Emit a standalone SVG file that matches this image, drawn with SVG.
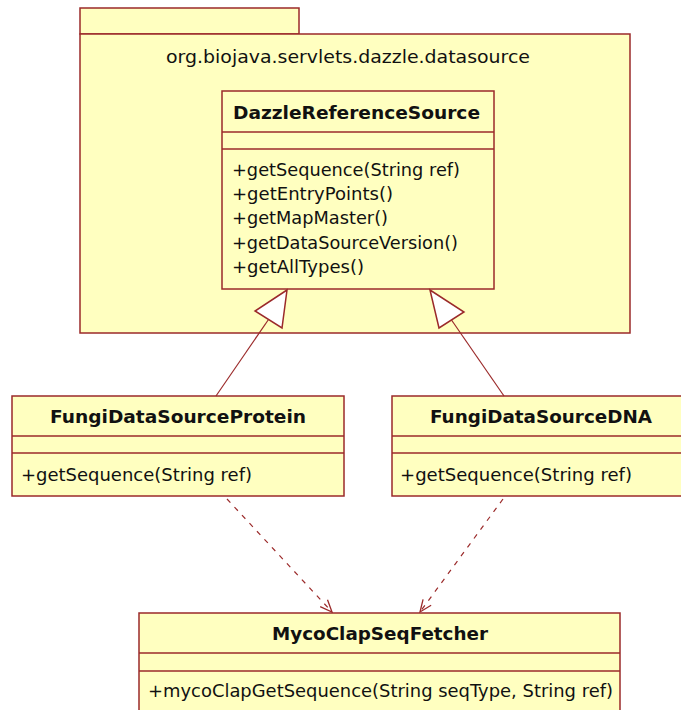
<svg xmlns="http://www.w3.org/2000/svg" width="681" height="710" viewBox="0 0 681 710">
<defs>
<style>
.box{fill:#FFFFC0;stroke:#9B2A2A;stroke-width:1.5}
.sep{stroke:#9B2A2A;stroke-width:1.5}
.t{font-family:"DejaVu Sans","Liberation Sans",sans-serif;font-size:17px;fill:#111}
.b{font-weight:bold;text-anchor:middle}
.gen{stroke:#9B2A2A;stroke-width:1.2;fill:none}
.tri{fill:#FFFFFF;stroke:#9B2A2A;stroke-width:1.5}
.dep{stroke:#9B2A2A;stroke-width:1.2;fill:none;stroke-dasharray:5,6}
</style>
<marker id="open" viewBox="0 0 14 12" refX="13" refY="6" markerWidth="14" markerHeight="12" markerUnits="userSpaceOnUse" orient="auto">
<path d="M1,1 L13,6 L1,11" fill="none" stroke="#9B2A2A" stroke-width="1.3"/>
</marker>
</defs>
<rect width="681" height="710" fill="#FFFFFF"/>
<g id="package">
<rect class="box" x="80" y="8" width="219" height="26"/>
<rect class="box" x="80" y="34" width="550" height="299"/>
<text class="t" x="348" y="63" text-anchor="middle" textLength="364" lengthAdjust="spacingAndGlyphs">org.biojava.servlets.dazzle.datasource</text>
</g>
<g id="DazzleReferenceSource">
<rect class="box" x="222" y="91" width="272" height="198"/>
<line class="sep" x1="222" y1="132" x2="494" y2="132"/>
<line class="sep" x1="222" y1="149" x2="494" y2="149"/>
<text class="t b" x="356.5" y="119" textLength="247" lengthAdjust="spacingAndGlyphs">DazzleReferenceSource</text>
<text class="t" x="232" y="176" textLength="228" lengthAdjust="spacingAndGlyphs">+getSequence(String ref)</text>
<text class="t" x="232" y="200" textLength="161" lengthAdjust="spacingAndGlyphs">+getEntryPoints()</text>
<text class="t" x="232" y="224" textLength="156" lengthAdjust="spacingAndGlyphs">+getMapMaster()</text>
<text class="t" x="232" y="249" textLength="226" lengthAdjust="spacingAndGlyphs">+getDataSourceVersion()</text>
<text class="t" x="232" y="273" textLength="132" lengthAdjust="spacingAndGlyphs">+getAllTypes()</text>
</g>
<g id="FungiDataSourceProtein">
<rect class="box" x="12" y="396" width="332" height="100"/>
<line class="sep" x1="12" y1="436" x2="344" y2="436"/>
<line class="sep" x1="12" y1="453" x2="344" y2="453"/>
<text class="t b" x="178" y="423" textLength="256" lengthAdjust="spacingAndGlyphs">FungiDataSourceProtein</text>
<text class="t" x="21" y="481" textLength="231" lengthAdjust="spacingAndGlyphs">+getSequence(String ref)</text>
</g>
<g id="FungiDataSourceDNA">
<rect class="box" x="392" y="396" width="300" height="100"/>
<line class="sep" x1="392" y1="436" x2="692" y2="436"/>
<line class="sep" x1="392" y1="453" x2="692" y2="453"/>
<text class="t b" x="541" y="423" textLength="222" lengthAdjust="spacingAndGlyphs">FungiDataSourceDNA</text>
<text class="t" x="400" y="481" textLength="232" lengthAdjust="spacingAndGlyphs">+getSequence(String ref)</text>
</g>
<g id="MycoClapSeqFetcher">
<rect class="box" x="139" y="613" width="481" height="110"/>
<line class="sep" x1="139" y1="653" x2="620" y2="653"/>
<line class="sep" x1="139" y1="671" x2="620" y2="671"/>
<text class="t b" x="380" y="640" textLength="216" lengthAdjust="spacingAndGlyphs">MycoClapSeqFetcher</text>
<text class="t" x="148" y="697" textLength="465" lengthAdjust="spacingAndGlyphs">+mycoClapGetSequence(String seqType, String ref)</text>
</g>
<g id="connectors">
<line class="gen" x1="216" y1="396" x2="268.5" y2="319.5"/>
<polygon class="tri" points="287,290 255,311 282,328"/>
<line class="gen" x1="504" y1="396" x2="451.5" y2="320"/>
<polygon class="tri" points="430,290 439,328 464,312"/>
<line class="dep" x1="227" y1="499" x2="332" y2="612" marker-end="url(#open)"/>
<line class="dep" x1="503" y1="499" x2="420" y2="612" marker-end="url(#open)"/>
</g>
</svg>
